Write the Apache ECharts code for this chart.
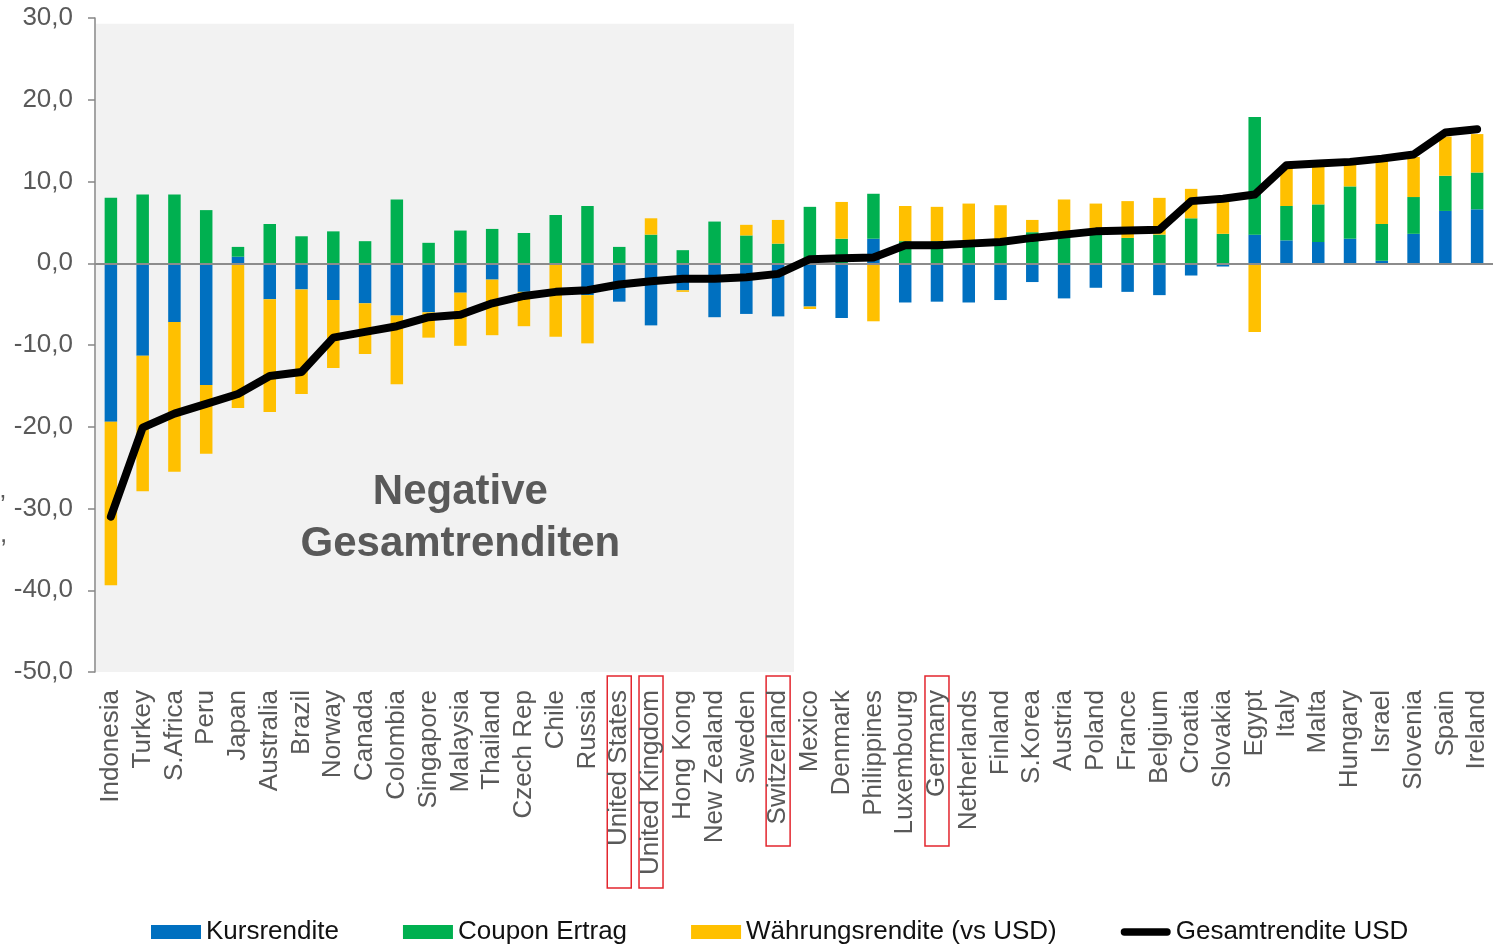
<!DOCTYPE html>
<html>
<head>
<meta charset="utf-8">
<script src="https://cdn.jsdelivr.net/npm/echarts@6/dist/echarts.min.js"></script>
<style>
  html, body { margin: 0; background: #fff; }
  #chart { width: 1499px; height: 945px; }
</style>
</head>
<body>
<div id="chart"></div>
<script>
const countries = ['Indonesia', 'Turkey', 'S.Africa', 'Peru', 'Japan', 'Australia', 'Brazil', 'Norway', 'Canada', 'Colombia',
  'Singapore', 'Malaysia', 'Thailand', 'Czech Rep', 'Chile', 'Russia', 'United States', 'United Kingdom', 'Hong Kong', 'New Zealand',
  'Sweden', 'Switzerland', 'Mexico', 'Denmark', 'Philippines', 'Luxembourg', 'Germany', 'Netherlands', 'Finland', 'S.Korea',
  'Austria', 'Poland', 'France', 'Belgium', 'Croatia', 'Slovakia', 'Egypt', 'Italy', 'Malta', 'Hungary',
  'Israel', 'Slovenia', 'Spain', 'Ireland']

const kursrendite = [-19.4, -11.3, -7.2, -14.9, 0.8, -4.4, -3.2, -4.5, -4.9, -6.4,
  -6.0, -3.6, -2.0, -3.5, 0, -3.9, -4.7, -7.6, -3.3, -6.6,
  -6.2, -6.5, -5.3, -6.7, 3.0, -4.8, -4.7, -4.8, -4.5, -2.3,
  -4.3, -3.0, -3.5, -3.9, -1.5, -0.4, 3.5, 2.8, 2.6, 3.0,
  0.3, 3.6, 6.4, 6.6]

const couponErtrag = [8.0, 8.4, 8.4, 6.5, 1.2, 4.8, 3.3, 3.9, 2.7, 7.8,
  2.5, 4.0, 4.2, 3.7, 5.9, 7.0, 2.0, 3.5, 1.6, 5.1,
  3.4, 2.4, 6.9, 3.0, 5.5, 2.7, 2.7, 2.7, 2.9, 3.8,
  3.2, 4.3, 3.1, 3.5, 5.5, 3.6, 14.4, 4.2, 4.6, 6.4,
  4.5, 4.5, 4.3, 4.5]

const waehrungsrendite = [-20.0, -16.6, -18.3, -8.4, -17.7, -13.8, -12.8, -8.3, -6.2, -8.4,
  -3.1, -6.5, -6.8, -4.2, -9.0, -5.9, 0, 2.0, -0.2, 0,
  1.3, 2.9, -0.3, 4.5, -7.1, 4.3, 4.2, 4.6, 4.2, 1.5,
  4.6, 3.0, 4.5, 4.5, 3.6, 4.4, -8.4, 4.9, 4.7, 2.7,
  8.0, 4.9, 4.8, 4.7]

const gesamtrendite = [-31.0, -20.1, -18.4, -17.2, -16.0, -13.8, -13.3, -9.1, -8.4, -7.7,
  -6.6, -6.3, -4.9, -4.0, -3.5, -3.3, -2.6, -2.2, -1.9, -1.9,
  -1.7, -1.3, 0.5, 0.6, 0.7, 2.2, 2.2, 2.4, 2.6, 3.1,
  3.5, 3.9, 4.0, 4.1, 7.6, 7.9, 8.4, 12.0, 12.2, 12.4,
  12.8, 13.3, 16.0, 16.4]

const boxedLong = ['United States', 'United Kingdom']
const boxedShort = ['Switzerland', 'Germany']
const lastNegative = 'Switzerland'

const font = 'Liberation Sans'
const grey = '#595959'
const boxRed = '#e3262e'

const chart = echarts.init(document.getElementById('chart'))

const barSeries = (name, data, color) => ({
  name: name,
  type: 'bar',
  stack: 'total',
  barWidth: 12.5,
  data: data,
  itemStyle: { color: color },
  emphasis: { disabled: true }
})

const option = {
  animation: false,
  textStyle: { fontFamily: font },
  grid: { left: 95, right: 6, top: 18, bottom: 273 },
  legend: {
    left: 146,
    top: 914,
    itemWidth: 50,
    itemHeight: 14,
    itemGap: 64,
    textStyle: { fontSize: 26, color: '#111', fontFamily: font },
    data: [
      { name: 'Kursrendite', icon: 'rect' },
      { name: 'Coupon Ertrag', icon: 'rect' },
      { name: 'Währungsrendite (vs USD)', icon: 'rect' },
      { name: 'Gesamtrendite USD', icon: 'path://M4,0L50,0A4,4,0,0,1,50,8L4,8A4,4,0,0,1,4,0Z' }
    ]
  },
  xAxis: {
    type: 'category',
    data: countries,
    axisLine: { show: false },
    axisTick: { show: false },
    axisLabel: {
      interval: 0,
      rotate: 90,
      margin: 4,
      fontSize: 26,
      color: grey,
      formatter: (v) => {
        if (boxedLong.includes(v)) return '{bl|' + v + '}'
        if (boxedShort.includes(v)) return '{bs|' + v + '}'
        return '{n|' + v + '}'
      },
      rich: {
        n: { fontSize: 26, color: grey, padding: [0, 14, 0, 0] },
        bl: { fontSize: 26, color: grey, width: 198, height: 24, align: 'right',
          padding: [0, 14, 0, 0], borderColor: boxRed, borderWidth: 1.5 },
        bs: { fontSize: 26, color: grey, width: 156, height: 24, align: 'right',
          padding: [0, 14, 0, 0], borderColor: boxRed, borderWidth: 1.5 }
      }
    }
  },
  yAxis: {
    type: 'value',
    min: -50,
    max: 30,
    interval: 10,
    axisLine: { show: true, lineStyle: { color: '#868686', width: 1.5 } },
    axisTick: { show: true, length: 7, lineStyle: { color: '#868686', width: 1.5 } },
    splitLine: { show: false },
    axisLabel: {
      margin: 22,
      fontSize: 26,
      color: grey,
      formatter: (v) => v.toFixed(1).replace('.', ',')
    }
  },
  series: [
    Object.assign(barSeries('Kursrendite', kursrendite, '#0070c0'), {
      markLine: {
        silent: true,
        symbol: 'none',
        label: { show: false },
        lineStyle: { color: '#8c8c8c', width: 2, type: 'solid' },
        data: [{ yAxis: 0 }]
      }
    }),
    barSeries('Coupon Ertrag', couponErtrag, '#00b050'),
    barSeries('Währungsrendite (vs USD)', waehrungsrendite, '#ffc000'),
    {
      name: 'Gesamtrendite USD',
      type: 'line',
      data: gesamtrendite,
      symbol: 'none',
      z: 5,
      itemStyle: { color: '#000' },
      lineStyle: { color: '#000', width: 8, cap: 'round', join: 'round' },
      emphasis: { disabled: true }
    }
  ]
}

chart.setOption(option)

// shaded "negative" block, placed from the axes
const xAt = (c) => chart.convertToPixel({ xAxisIndex: 0 }, c)
const yAt = (v) => chart.convertToPixel({ yAxisIndex: 0 }, v)
const band = xAt(countries[1]) - xAt(countries[0])
const areaLeft = xAt(countries[0]) - band / 2
const areaRight = xAt(lastNegative) + band / 2
const areaTop = yAt(29.3)
const areaBottom = yAt(-50)

chart.setOption({
  graphic: [
    {
      type: 'rect',
      z: -10,
      silent: true,
      shape: { x: areaLeft + 1, y: areaTop, width: areaRight - areaLeft - 1, height: areaBottom - areaTop },
      style: { fill: '#f2f2f2' }
    },
    {
      type: 'text',
      z: 10,
      silent: true,
      x: xAt('Malaysia'),
      y: yAt(-31.2),
      style: {
        text: 'Negative\nGesamtrenditen',
        font: 'bold 42px "Liberation Sans"',
        fill: grey,
        align: 'center',
        verticalAlign: 'middle',
        lineHeight: 52
      }
    },
    { type: 'text', left: 0, top: 493, style: { text: '’', font: '26px "Liberation Sans"', fill: grey } },
    { type: 'text', left: 0, top: 522, style: { text: ',', font: '26px "Liberation Sans"', fill: grey } }
  ]
})
</script>
</body>
</html>
